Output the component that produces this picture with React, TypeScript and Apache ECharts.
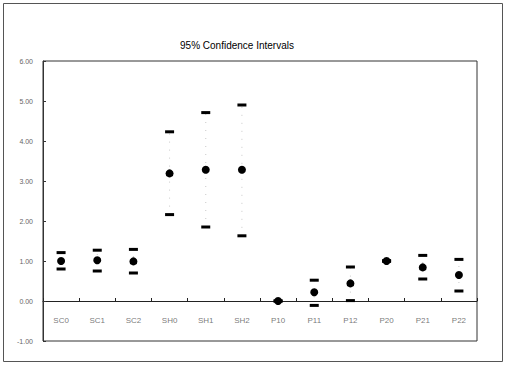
import React, { useEffect, useRef } from "react";
import * as echarts from "echarts";

const categories = ["SC0", "SC1", "SC2", "SH0", "SH1", "SH2", "P10", "P11", "P12", "P20", "P21", "P22"];
const means = [1.0, 1.02, 0.99, 3.19, 3.28, 3.28, 0.0, 0.22, 0.44, 1.0, 0.84, 0.65];
const upper = [1.21, 1.27, 1.29, 4.23, 4.71, 4.9, 0.0, 0.52, 0.85, 1.01, 1.14, 1.04];
const lower = [0.8, 0.75, 0.7, 2.16, 1.85, 1.63, 0.0, -0.11, 0.01, 0.99, 0.55, 0.25];

const FONT = "Liberation Sans, Arial, sans-serif";

export default function App() {
  const ref = useRef<HTMLDivElement>(null);
  useEffect(() => {
    document.body.style.margin = "0";
    const chart = echarts.init(ref.current!, null, { renderer: "svg" });
    const rangeData = categories.map((c, i) => [i, lower[i], upper[i]]);
    chart.setOption({
      animation: false,
      backgroundColor: "#fff",
      title: {
        text: "95% Confidence Intervals",
        left: 232,
        top: 35,
        textAlign: "center",
        textStyle: { fontFamily: FONT, fontSize: 10, fontWeight: "normal", color: "#000" },
      },
      graphic: [
        {
          type: "rect",
          shape: { x: 3.5, y: 3.5, width: 499, height: 358 },
          style: { fill: "none", stroke: "#555", lineWidth: 1 },
          silent: true,
        },
      ],
      grid: {
        left: 43,
        right: 29,
        top: 61,
        bottom: 25,
        show: true,
        borderColor: "#333",
        borderWidth: 1,
        backgroundColor: "transparent",
      },
      xAxis: {
        type: "category",
        data: categories,
        boundaryGap: true,
        axisLine: { onZero: true, lineStyle: { color: "#222", width: 1 } },
        axisTick: { show: true, inside: true, length: 3, lineStyle: { color: "#222" } },
        axisLabel: { show: false },
        splitLine: { show: false },
      },
      yAxis: {
        type: "value",
        min: -1,
        max: 6,
        interval: 1,
        axisLine: { show: true, lineStyle: { color: "#333" } },
        axisTick: { show: true, inside: true, length: 3, lineStyle: { color: "#333" } },
        axisLabel: {
          color: "#666",
          fontSize: 7,
          fontFamily: FONT,
          margin: 10,
          formatter: (v: number) => v.toFixed(2),
        },
        splitLine: { show: false },
      },
      series: [
        {
          type: "custom",
          data: rangeData,
          z: 1,
          silent: true,
          renderItem: (params: any, api: any) => {
            const x = api.value(0);
            const p1 = api.coord([x, api.value(1)]);
            const p2 = api.coord([x, api.value(2)]);
            return {
              type: "line",
              shape: { x1: p1[0], y1: p1[1], x2: p2[0], y2: p2[1] },
              style: { stroke: "#c8c8c8", lineWidth: 1, lineDash: [1, 7] },
            };
          },
        },
        {
          type: "scatter",
          data: upper.map((v, i) => [i, v]),
          symbol: "rect",
          symbolSize: [9, 3],
          itemStyle: { color: "#000", opacity: 1 },
          z: 3,
        },
        {
          type: "scatter",
          data: lower.map((v, i) => [i, v]),
          symbol: "rect",
          symbolSize: [9, 3],
          itemStyle: { color: "#000", opacity: 1 },
          z: 3,
        },
        {
          type: "scatter",
          data: means.map((v, i) => [i, v]),
          symbol: "circle",
          symbolSize: 8,
          itemStyle: { color: "#000", opacity: 1 },
          z: 4,
        },
        {
          type: "scatter",
          data: categories.map((c, i) => ({ value: [i, 0], name: c })),
          symbolSize: 1,
          silent: true,
          itemStyle: { color: "rgba(0,0,0,0)" },
          z: 5,
          label: {
            show: true,
            position: "bottom",
            distance: 15,
            formatter: (p: any) => p.name,
            color: "#555",
            fontSize: 8,
            fontFamily: FONT,
          },
        },
      ],
    });
    return () => chart.dispose();
  }, []);
  return <div ref={ref} style={{ position: "fixed", left: 0, top: 0, width: 506, height: 366 }} />;
}
